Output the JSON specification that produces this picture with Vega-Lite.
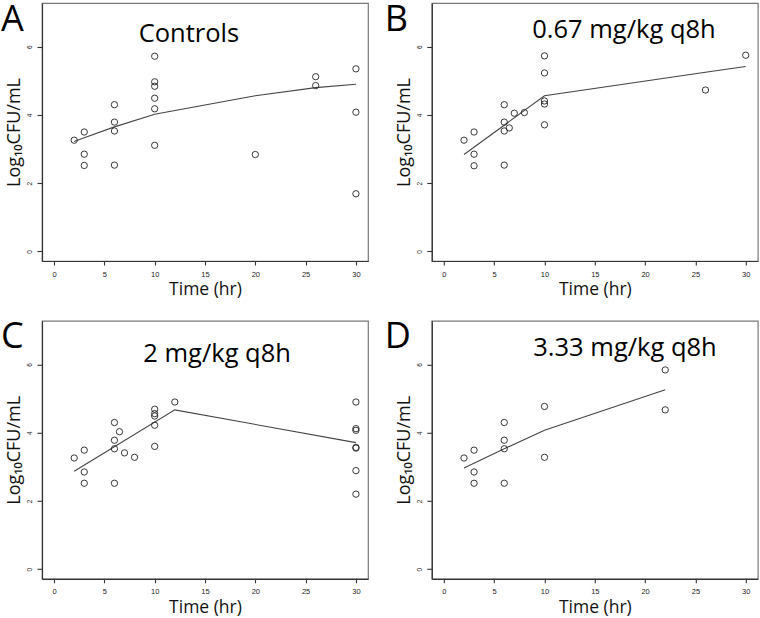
{
  "$schema": "https://vega.github.io/schema/vega-lite/v6.json",
  "padding": 0,
  "background": "white",
  "config": {
    "font": "Open Sans",
    "view": {"stroke": "#777", "strokeWidth": 1.2},
    "axis": {
      "grid": false,
      "domain": true,
      "ticks": true,
      "domainColor": "#333",
      "domainWidth": 1.2,
      "tickColor": "#333",
      "tickWidth": 1.1,
      "labelColor": "#222",
      "titleColor": "#111",
      "labelFont": "Liberation Sans",
      "titleFont": "Open Sans",
      "titleFontWeight": "normal",
      "labelOverlap": false,
      "labelSeparation": 0
    },
    "axisX": {"labelFontSize": 7.5, "tickSize": 4, "labelPadding": 5, "titleFontSize": 17.5, "titlePadding": 3},
    "axisY": {"labelFontSize": 6.5, "tickSize": 5, "labelPadding": 4.5, "labelAngle": -90, "labelAlign": "center", "labelBaseline": "bottom", "titleFontSize": 18, "titlePadding": 3},
    "title": {"font": "Open Sans", "fontWeight": "normal", "fontSize": 36, "anchor": "start", "frame": "group", "offset": -35.5, "color": "#000"}
  },
  "datasets": {
    "pts": [
      {"panel": "A", "t": 2, "v": 3.26}, {"panel": "A", "t": 3, "v": 3.5}, {"panel": "A", "t": 3, "v": 2.85}, {"panel": "A", "t": 3, "v": 2.52},
      {"panel": "A", "t": 6, "v": 4.3}, {"panel": "A", "t": 6, "v": 3.79}, {"panel": "A", "t": 6, "v": 3.53}, {"panel": "A", "t": 6, "v": 2.53},
      {"panel": "A", "t": 10, "v": 5.72}, {"panel": "A", "t": 10, "v": 4.97}, {"panel": "A", "t": 10, "v": 4.84}, {"panel": "A", "t": 10, "v": 4.49}, {"panel": "A", "t": 10, "v": 4.18}, {"panel": "A", "t": 10, "v": 3.11},
      {"panel": "A", "t": 20, "v": 2.84}, {"panel": "A", "t": 26, "v": 5.12}, {"panel": "A", "t": 26, "v": 4.86},
      {"panel": "A", "t": 30, "v": 5.35}, {"panel": "A", "t": 30, "v": 4.08}, {"panel": "A", "t": 30, "v": 1.69},

      {"panel": "B", "t": 2, "v": 3.26}, {"panel": "B", "t": 3, "v": 3.5}, {"panel": "B", "t": 3, "v": 2.85}, {"panel": "B", "t": 3, "v": 2.51},
      {"panel": "B", "t": 6, "v": 4.3}, {"panel": "B", "t": 6, "v": 3.79}, {"panel": "B", "t": 6, "v": 3.53}, {"panel": "B", "t": 6, "v": 2.53},
      {"panel": "B", "t": 6.5, "v": 3.62}, {"panel": "B", "t": 7, "v": 4.05}, {"panel": "B", "t": 8, "v": 4.07},
      {"panel": "B", "t": 10, "v": 5.73}, {"panel": "B", "t": 10, "v": 5.23}, {"panel": "B", "t": 10, "v": 4.41}, {"panel": "B", "t": 10, "v": 4.32}, {"panel": "B", "t": 10, "v": 3.71},
      {"panel": "B", "t": 26, "v": 4.73}, {"panel": "B", "t": 30, "v": 5.75},

      {"panel": "C", "t": 2, "v": 3.26}, {"panel": "C", "t": 3, "v": 3.49}, {"panel": "C", "t": 3, "v": 2.85}, {"panel": "C", "t": 3, "v": 2.52},
      {"panel": "C", "t": 6, "v": 4.3}, {"panel": "C", "t": 6, "v": 3.78}, {"panel": "C", "t": 6, "v": 3.53}, {"panel": "C", "t": 6, "v": 2.52},
      {"panel": "C", "t": 6.5, "v": 4.03}, {"panel": "C", "t": 7, "v": 3.41}, {"panel": "C", "t": 8, "v": 3.28},
      {"panel": "C", "t": 10, "v": 4.69}, {"panel": "C", "t": 10, "v": 4.56}, {"panel": "C", "t": 10, "v": 4.49}, {"panel": "C", "t": 10, "v": 4.22}, {"panel": "C", "t": 10, "v": 3.6},
      {"panel": "C", "t": 12, "v": 4.9},
      {"panel": "C", "t": 30, "v": 4.9}, {"panel": "C", "t": 30, "v": 4.12}, {"panel": "C", "t": 30, "v": 4.07}, {"panel": "C", "t": 30, "v": 3.57}, {"panel": "C", "t": 30, "v": 3.55}, {"panel": "C", "t": 30, "v": 2.89}, {"panel": "C", "t": 30, "v": 2.2},

      {"panel": "D", "t": 2, "v": 3.26}, {"panel": "D", "t": 3, "v": 3.49}, {"panel": "D", "t": 3, "v": 2.85}, {"panel": "D", "t": 3, "v": 2.52},
      {"panel": "D", "t": 6, "v": 4.3}, {"panel": "D", "t": 6, "v": 3.78}, {"panel": "D", "t": 6, "v": 3.53}, {"panel": "D", "t": 6, "v": 2.52},
      {"panel": "D", "t": 10, "v": 4.77}, {"panel": "D", "t": 10, "v": 3.28},
      {"panel": "D", "t": 22, "v": 5.84}, {"panel": "D", "t": 22, "v": 4.67}
    ],
    "fit": [
      {"panel": "A", "t": 2, "f": 3.22}, {"panel": "A", "t": 3, "f": 3.33}, {"panel": "A", "t": 6, "f": 3.65}, {"panel": "A", "t": 10, "f": 4.02}, {"panel": "A", "t": 20, "f": 4.56}, {"panel": "A", "t": 26, "f": 4.8}, {"panel": "A", "t": 30, "f": 4.9},
      {"panel": "B", "t": 2, "f": 2.84}, {"panel": "B", "t": 10, "f": 4.56}, {"panel": "B", "t": 26, "f": 5.25}, {"panel": "B", "t": 30, "f": 5.42},
      {"panel": "C", "t": 2, "f": 2.87}, {"panel": "C", "t": 12, "f": 4.67}, {"panel": "C", "t": 30, "f": 3.71},
      {"panel": "D", "t": 2, "f": 2.97}, {"panel": "D", "t": 6, "f": 3.53}, {"panel": "D", "t": 10, "f": 4.07}, {"panel": "D", "t": 22, "f": 5.26}
    ]
  },
  "columns": 2,
  "align": "all",
  "spacing": {"row": 18.8, "column": 14.8},
  "concat": [
    {
      "title": {"text": "A", "dx": -41},
      "width": 326, "height": 258,
      "layer": [
        {"data": {"name": "fit"}, "transform": [{"filter": "datum.panel === 'A'"}], "mark": {"type": "line", "color": "#444", "strokeWidth": 1.1},
         "encoding": {"x": {"field": "t", "type": "quantitative", "scale": {"domain": [-1.2, 31.2], "nice": false, "zero": false}, "axis": {"values": [0, 5, 10, 15, 20, 25, 30], "title": "Time (hr)"}},
                      "y": {"field": "f", "type": "quantitative", "scale": {"domain": [-0.28, 7.28], "nice": false, "zero": false}, "axis": {"values": [0, 1, 2, 3, 4, 5, 6, 7], "labelOverlap": false, "title": "Log₁₀CFU/mL"}}}},
        {"data": {"name": "pts"}, "transform": [{"filter": "datum.panel === 'A'"}], "mark": {"type": "point", "shape": "circle", "filled": false, "size": 40, "stroke": "#222", "strokeWidth": 0.9, "opacity": 1},
         "encoding": {"x": {"field": "t", "type": "quantitative"}, "y": {"field": "v", "type": "quantitative"}}},
        {"data": {"values": [{}]}, "mark": {"type": "text", "fontSize": 25.5, "font": "Open Sans", "align": "center", "baseline": "middle", "color": "#000"},
         "encoding": {"x": {"datum": 13.4}, "y": {"datum": 6.38}, "text": {"value": "Controls"}}}
      ]
    },
    {
      "title": {"text": "B", "dx": -47},
      "width": 326, "height": 258,
      "layer": [
        {"data": {"name": "fit"}, "transform": [{"filter": "datum.panel === 'B'"}], "mark": {"type": "line", "color": "#444", "strokeWidth": 1.1},
         "encoding": {"x": {"field": "t", "type": "quantitative", "scale": {"domain": [-1.2, 31.2], "nice": false, "zero": false}, "axis": {"values": [0, 5, 10, 15, 20, 25, 30], "title": "Time (hr)"}},
                      "y": {"field": "f", "type": "quantitative", "scale": {"domain": [-0.28, 7.28], "nice": false, "zero": false}, "axis": {"values": [0, 1, 2, 3, 4, 5, 6, 7], "labelOverlap": false, "title": "Log₁₀CFU/mL"}}}},
        {"data": {"name": "pts"}, "transform": [{"filter": "datum.panel === 'B'"}], "mark": {"type": "point", "shape": "circle", "filled": false, "size": 40, "stroke": "#222", "strokeWidth": 0.9, "opacity": 1},
         "encoding": {"x": {"field": "t", "type": "quantitative"}, "y": {"field": "v", "type": "quantitative"}}},
        {"data": {"values": [{}]}, "mark": {"type": "text", "fontSize": 25.5, "font": "Open Sans", "align": "center", "baseline": "middle", "color": "#000"},
         "encoding": {"x": {"datum": 17.9}, "y": {"datum": 6.48}, "text": {"value": "0.67 mg/kg q8h"}}}
      ]
    },
    {
      "title": {"text": "C", "dx": -41},
      "width": 326, "height": 258,
      "layer": [
        {"data": {"name": "fit"}, "transform": [{"filter": "datum.panel === 'C'"}], "mark": {"type": "line", "color": "#444", "strokeWidth": 1.1},
         "encoding": {"x": {"field": "t", "type": "quantitative", "scale": {"domain": [-1.2, 31.2], "nice": false, "zero": false}, "axis": {"values": [0, 5, 10, 15, 20, 25, 30], "title": "Time (hr)"}},
                      "y": {"field": "f", "type": "quantitative", "scale": {"domain": [-0.28, 7.28], "nice": false, "zero": false}, "axis": {"values": [0, 1, 2, 3, 4, 5, 6, 7], "labelOverlap": false, "title": "Log₁₀CFU/mL"}}}},
        {"data": {"name": "pts"}, "transform": [{"filter": "datum.panel === 'C'"}], "mark": {"type": "point", "shape": "circle", "filled": false, "size": 40, "stroke": "#222", "strokeWidth": 0.9, "opacity": 1},
         "encoding": {"x": {"field": "t", "type": "quantitative"}, "y": {"field": "v", "type": "quantitative"}}},
        {"data": {"values": [{}]}, "mark": {"type": "text", "fontSize": 25.5, "font": "Open Sans", "align": "center", "baseline": "middle", "color": "#000"},
         "encoding": {"x": {"datum": 16.2}, "y": {"datum": 6.31}, "text": {"value": "2 mg/kg q8h"}}}
      ]
    },
    {
      "title": {"text": "D", "dx": -47},
      "width": 326, "height": 258,
      "layer": [
        {"data": {"name": "fit"}, "transform": [{"filter": "datum.panel === 'D'"}], "mark": {"type": "line", "color": "#444", "strokeWidth": 1.1},
         "encoding": {"x": {"field": "t", "type": "quantitative", "scale": {"domain": [-1.2, 31.2], "nice": false, "zero": false}, "axis": {"values": [0, 5, 10, 15, 20, 25, 30], "title": "Time (hr)"}},
                      "y": {"field": "f", "type": "quantitative", "scale": {"domain": [-0.28, 7.28], "nice": false, "zero": false}, "axis": {"values": [0, 1, 2, 3, 4, 5, 6, 7], "labelOverlap": false, "title": "Log₁₀CFU/mL"}}}},
        {"data": {"name": "pts"}, "transform": [{"filter": "datum.panel === 'D'"}], "mark": {"type": "point", "shape": "circle", "filled": false, "size": 40, "stroke": "#222", "strokeWidth": 0.9, "opacity": 1},
         "encoding": {"x": {"field": "t", "type": "quantitative"}, "y": {"field": "v", "type": "quantitative"}}},
        {"data": {"values": [{}]}, "mark": {"type": "text", "fontSize": 25.5, "font": "Open Sans", "align": "center", "baseline": "middle", "color": "#000"},
         "encoding": {"x": {"datum": 18.0}, "y": {"datum": 6.47}, "text": {"value": "3.33 mg/kg q8h"}}}
      ]
    }
  ]
}
